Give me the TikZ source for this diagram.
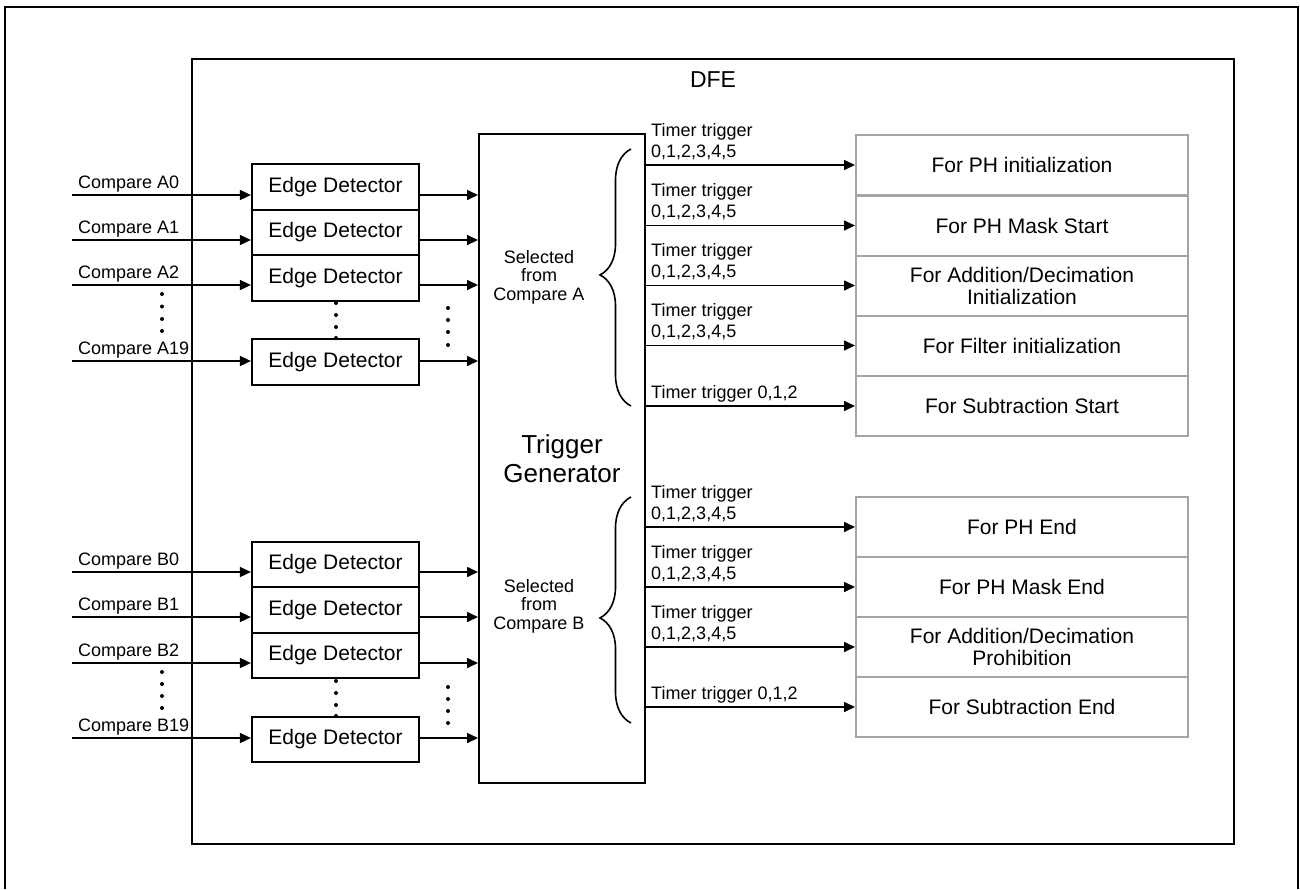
\documentclass[tikz,border=0pt]{standalone}
\usepackage{fontspec}
\setmainfont{Liberation Sans}
\usetikzlibrary{arrows.meta,decorations.pathreplacing}
\definecolor{boxgray}{RGB}{165,165,165}
\begin{document}
\begin{tikzpicture}[x=1pt,y=-1pt,
  arr/.style={line width=1.6pt, -{Triangle[length=11pt,width=10pt]}},
  edbox/.style={draw, line width=2.2pt, minimum width=167pt, minimum height=45.5pt, inner sep=0pt, font=\fontsize{21}{24}\selectfont},
  rbox/.style={draw=boxgray, line width=2pt, minimum width=332pt, minimum height=60pt, inner sep=0pt, align=center, font=\fontsize{21}{22}\selectfont},
  lbl/.style={anchor=base west, inner sep=0pt, font=\fontsize{18}{21}\selectfont},
  sel/.style={anchor=base, inner sep=0pt, font=\fontsize{18}{18.5}\selectfont},
  frm/.style={line width=2pt},
  brcA/.style={decorate, decoration={brace, amplitude=31pt, aspect=0.51}, line width=1.6pt},
  brcB/.style={decorate, decoration={brace, amplitude=31pt, aspect=0.465}, line width=1.6pt}
]
\useasboundingbox (0,0) rectangle (1300,889);
% outer frame (open at the bottom edge)
\draw[frm] (5,889) -- (5,7) -- (1298,7) -- (1298,889);
% DFE frame
\node[draw, frm, minimum width=1042pt, minimum height=785pt, inner sep=0pt] (dfe) at (713,451.5) {};
\node[anchor=base, inner sep=0pt, font=\fontsize{23}{26}\selectfont] (dfel) at (713,87) {DFE};
% trigger generator
\node[draw, frm, minimum width=166pt, minimum height=649pt, align=center, font=\fontsize{26}{29}\selectfont] (tg) at (562,458.5) {Trigger\\Generator};
% edge detectors A
\node[edbox] (ea0) at (335.5,187) {Edge Detector};
\node[edbox] (ea1) at (335.5,232.5) {Edge Detector};
\node[edbox] (ea2) at (335.5,278) {Edge Detector};
\node[edbox] (ea19) at (335.5,362) {Edge Detector};
% edge detectors B
\node[edbox] (eb0) at (335.5,564.5) {Edge Detector};
\node[edbox] (eb1) at (335.5,610) {Edge Detector};
\node[edbox] (eb2) at (335.5,655.5) {Edge Detector};
\node[edbox] (eb19) at (335.5,739.5) {Edge Detector};
% input coordinates
\coordinate (ia0) at (72,195);
\coordinate (ia1) at (72,240);
\coordinate (ia2) at (72,285);
\coordinate (ia19) at (72,361);
\coordinate (ib0) at (72,572);
\coordinate (ib1) at (72,617);
\coordinate (ib2) at (72,663);
\coordinate (ib19) at (72,738);
% inputs and outputs of edge detectors
\foreach \n in {a0,a1,a2,a19,b0,b1,b2,b19}{
  \draw[arr] (i\n) -- (i\n -| e\n.west);
  \draw[arr] (e\n.east |- i\n) -- (i\n -| tg.west);
}
% compare labels
\node[lbl] (la0) at (78,188) {Compare A0};
\node[lbl] (la1) at (78,233) {Compare A1};
\node[lbl] (la2) at (78,278) {Compare A2};
\node[lbl] (la19) at (78,354) {Compare A19};
\node[lbl] (lb0) at (78,565) {Compare B0};
\node[lbl] (lb1) at (78,610) {Compare B1};
\node[lbl] (lb2) at (78,656) {Compare B2};
\node[lbl] (lb19) at (78,731) {Compare B19};
% dots
\foreach \y in {294,306.5,319,331}{\fill (162,\y) circle (2pt);}
\foreach \y in {303,315,327,338}{\fill (336,\y) circle (2pt);}
\foreach \y in {308,320,332,345}{\fill (448,\y) circle (2pt);}
\foreach \y in {672,684,696,708}{\fill (162,\y) circle (2pt);}
\foreach \y in {681,693,705,716}{\fill (336,\y) circle (2pt);}
\foreach \y in {687,699,711,723}{\fill (448,\y) circle (2pt);}
% selected labels
\node[sel] (sa) at (539,263) {\begin{tabular}[t]{@{}c@{}}Selected\\from\\Compare A\end{tabular}};
\node[sel] (sb) at (539,592) {\begin{tabular}[t]{@{}c@{}}Selected\\from\\Compare B\end{tabular}};
% braces
\draw[brcA] (631,406) -- (631,149);
\draw[brcB] (631,723) -- (631,497);
% right boxes A
\node[rbox] (r1) at (1022,165) {For PH initialization};
\node[rbox] (r2) at (1022,225.5) {For PH Mask Start};
\node[rbox] (r3) at (1022,285.5) {For Addition/Decimation\\Initialization};
\node[rbox] (r4) at (1022,345.5) {For Filter initialization};
\node[rbox] (r5) at (1022,406) {For Subtraction Start};
% right boxes B
\node[rbox] (s1) at (1022,527) {For PH End};
\node[rbox] (s2) at (1022,587) {For PH Mask End};
\node[rbox] (s3) at (1022,647) {For Addition/Decimation\\Prohibition};
\node[rbox] (s4) at (1022,707) {For Subtraction End};
% output arrows
\foreach \n in {r1,r2,r3,r4,r5,s1,s2,s3,s4}{
  \draw[arr] (tg.east |- \n.west) -- (\n.west);
}
% timer trigger labels
\node[lbl] (t1) at (651,157) {\begin{tabular}[b]{@{}l@{}}Timer trigger\\0,1,2,3,4,5\end{tabular}};
\node[lbl] (t2) at (651,217.5) {\begin{tabular}[b]{@{}l@{}}Timer trigger\\0,1,2,3,4,5\end{tabular}};
\node[lbl] (t3) at (651,277.5) {\begin{tabular}[b]{@{}l@{}}Timer trigger\\0,1,2,3,4,5\end{tabular}};
\node[lbl] (t4) at (651,337.5) {\begin{tabular}[b]{@{}l@{}}Timer trigger\\0,1,2,3,4,5\end{tabular}};
\node[lbl] (t5) at (651,398) {Timer trigger 0,1,2};
\node[lbl] (u1) at (651,519) {\begin{tabular}[b]{@{}l@{}}Timer trigger\\0,1,2,3,4,5\end{tabular}};
\node[lbl] (u2) at (651,579) {\begin{tabular}[b]{@{}l@{}}Timer trigger\\0,1,2,3,4,5\end{tabular}};
\node[lbl] (u3) at (651,639) {\begin{tabular}[b]{@{}l@{}}Timer trigger\\0,1,2,3,4,5\end{tabular}};
\node[lbl] (u4) at (651,699) {Timer trigger 0,1,2};
\end{tikzpicture}
\end{document}
